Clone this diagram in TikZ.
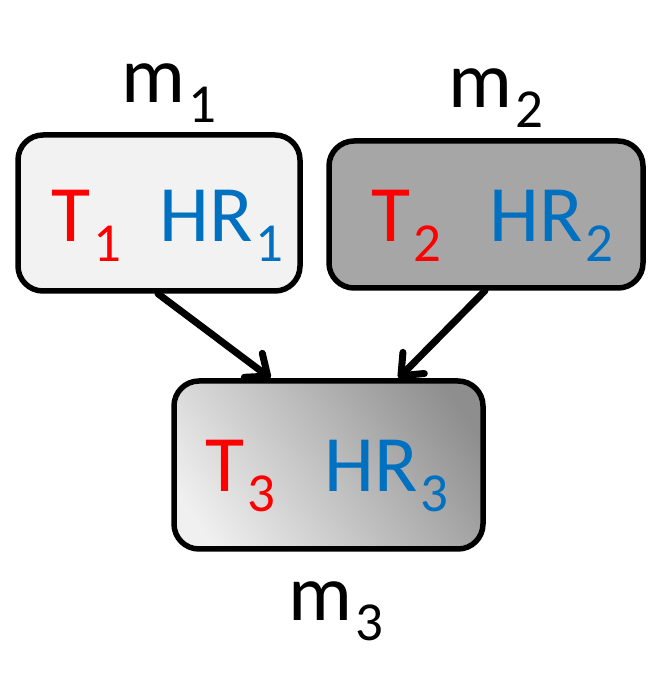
\documentclass[tikz,border=0pt]{standalone}
\usepackage{fontspec}
\setmainfont{Carlito}
\usetikzlibrary{arrows.meta}
\definecolor{myred}{HTML}{FF0000}
\definecolor{myblue}{HTML}{0070C0}
\definecolor{boxa}{HTML}{F2F2F2}
\definecolor{boxb}{HTML}{A6A6A6}
\definecolor{gradlight}{HTML}{F0F0F0}
\definecolor{graddark}{HTML}{8E8E8E}
\pgfdeclarehorizontalshading{diagshade}{100bp}{color(0bp)=(gradlight); color(22bp)=(gradlight); color(78bp)=(graddark); color(100bp)=(graddark)}
\newcommand{\withsub}[2]{#1\hspace{3pt}\raisebox{-20pt}{\fontsize{55}{55}\selectfont #2}}
\begin{document}
\begin{tikzpicture}[x=1pt,y=1pt,
  box/.style={draw=black, line width=5.5pt, rounded corners=25pt, inner sep=0pt},
  lbl/.style={inner sep=0pt, anchor=base west, font=\fontsize{80}{90}\selectfont},
  arrowline/.style={draw=black, line width=7pt, line cap=round, arrows={-Straight Barb[length=18pt,width=30pt,line cap=round,line join=round]}}
]
\useasboundingbox (0,0) rectangle (648,694);
\node[box, fill=boxa, minimum width=282pt, minimum height=156pt] (b1) at (159,481) {};
\node[box, fill=boxb, minimum width=314pt, minimum height=147pt] (b2) at (486,479.5) {};
\node[box, shading=diagshade, shading angle=35, minimum width=309pt, minimum height=168pt] (b3) at (328.5,229) {};

\node[lbl, text=myred] (t1) at (51,452) {\withsub{T}{1}};
\node[lbl, text=myblue] (h1) at (159,452) {\withsub{HR}{1}};
\node[lbl, text=myred] (t2) at (371,452) {\withsub{T}{2}};
\node[lbl, text=myblue] (h2) at (489,452) {\withsub{HR}{2}};
\node[lbl, text=myred] (t3) at (205,202) {\withsub{T}{3}};
\node[lbl, text=myblue] (h3) at (324,202) {\withsub{HR}{3}};

\node[lbl] (m1) at (121,591) {\withsub{m}{1}};
\node[lbl] (m2) at (448,586) {\withsub{m}{2}};
\node[lbl] (m3) at (288,73) {\withsub{m}{3}};

\draw[arrowline] ([xshift=-1pt]b1.south) -- ([xshift=-58pt]b3.north);
\draw[arrowline] ([xshift=-1pt]b2.south) -- ([xshift=70pt]b3.north);
\end{tikzpicture}
\end{document}
